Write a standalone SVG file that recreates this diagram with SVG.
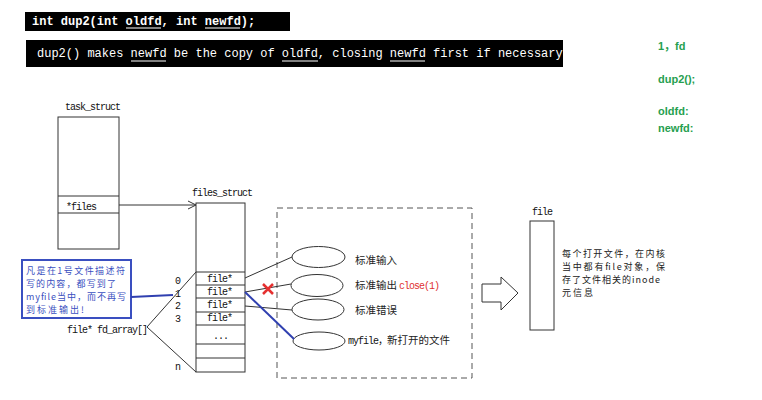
<svg xmlns="http://www.w3.org/2000/svg" width="762" height="400" viewBox="0 0 762 400">
<defs>
<style>
.code{font-family:"Liberation Mono",monospace;font-size:12px;fill:#fff}
.m{font-family:"Liberation Mono","Noto Sans CJK SC",monospace;font-size:10px;letter-spacing:-1px;fill:#111}
.cn{font-family:"Noto Sans CJK SC",sans-serif;font-size:10.5px;fill:#222}
.cs{font-family:"Noto Sans CJK SC",sans-serif;font-size:9px;fill:#222}
.bl{fill:#3a4fc0}
.g{font-family:"Liberation Sans","Noto Sans CJK SC",sans-serif;font-size:11px;font-weight:bold;fill:#27a050}
.box{fill:#fff;stroke:#333;stroke-width:1}
.ln{stroke:#333;stroke-width:1;fill:none}
.ul{stroke:#fff;stroke-width:1}
</style>
<marker id="open" markerWidth="10" markerHeight="10" refX="9" refY="5" orient="auto" markerUnits="userSpaceOnUse">
<path d="M1,1 L9,5 L1,9" fill="none" stroke="#333" stroke-width="1"/>
</marker>
</defs>
<rect width="762" height="400" fill="#fff"/>

<g id="sig">
<rect x="25" y="12" width="265" height="19" fill="#000"/>
<text class="code" x="32" y="25" font-weight="bold">int dup2(int oldfd, int newfd);</text>
<line class="ul" x1="126" y1="28" x2="161" y2="28"/>
<line class="ul" x1="205" y1="28" x2="240" y2="28"/>
</g>
<g id="desc">
<rect x="26" y="40" width="537" height="27" fill="#000"/>
<text class="code" x="37" y="57">dup2() makes newfd be the copy of oldfd, closing newfd first if necessary</text>
<line class="ul" x1="131" y1="61" x2="166" y2="61"/>
<line class="ul" x1="282" y1="61" x2="318" y2="61"/>
<line class="ul" x1="390" y1="61" x2="425" y2="61"/>
</g>

<g id="notes">
<text class="g" x="658" y="50">1，fd</text>
<text class="g" x="658" y="83">dup2();</text>
<text class="g" x="658" y="115">oldfd:</text>
<text class="g" x="658" y="132">newfd:</text>
</g>

<g id="task_struct">
<text class="m" x="65" y="110">task_struct</text>
<rect class="box" x="58" y="117" width="61" height="132"/>
<line class="ln" x1="58" y1="196" x2="119" y2="196"/>
<line class="ln" x1="58" y1="213" x2="119" y2="213"/>
<text class="m" x="66" y="210">*files</text>
</g>

<g id="files_struct">
<text class="m" x="192" y="196">files_struct</text>
<rect class="box" x="196" y="203" width="49" height="169"/>
<line class="ln" x1="196" y1="272" x2="245" y2="272"/>
<line class="ln" x1="196" y1="285" x2="245" y2="285"/>
<line class="ln" x1="196" y1="298" x2="245" y2="298"/>
<line class="ln" x1="196" y1="312" x2="245" y2="312"/>
<line class="ln" x1="196" y1="325" x2="245" y2="325"/>
<line class="ln" x1="196" y1="344" x2="245" y2="344"/>
<line class="ln" x1="196" y1="358" x2="245" y2="358"/>
<text class="m" x="207" y="282">file*</text>
<text class="m" x="207" y="295">file*</text>
<text class="m" x="207" y="308">file*</text>
<text class="m" x="207" y="321">file*</text>
<text class="m" x="213" y="339">...</text>
<text class="m" x="175" y="284">0</text>
<text class="m" x="175" y="297">1</text>
<text class="m" x="175" y="309">2</text>
<text class="m" x="175" y="322">3</text>
<text class="m" x="175" y="370">n</text>
<text class="m" x="67" y="333">file* fd_array[]</text>
</g>

<g id="callout">
<rect x="22" y="260" width="109" height="58" fill="#fff" stroke="#3a4fc0" stroke-width="2"/>
<text class="cs bl" x="26" y="274" textLength="99">凡是在1号文件描述符</text>
<text class="cs bl" x="26" y="287" textLength="90">写的内容，都写到了</text>
<text class="cs bl" x="26" y="300" textLength="100">myfile当中，而不再写</text>
<text class="cs bl" x="26" y="313" textLength="58">到标准输出!</text>
</g>

<g id="open_files">
<rect x="277" y="208" width="195" height="170" fill="none" stroke="#555" stroke-width="1" stroke-dasharray="6,4"/>
<ellipse class="box" cx="318.5" cy="257" rx="26.5" ry="10.5"/>
<ellipse class="box" cx="317" cy="285.5" rx="26" ry="11"/>
<ellipse class="box" cx="318" cy="309.5" rx="26" ry="10.5"/>
<ellipse class="box" cx="319" cy="341" rx="26" ry="9"/>
<text class="cn" x="355" y="264">标准输入</text>
<text class="cn" x="355" y="289">标准输出</text>
<text class="m" x="399" y="289" style="fill:#e03030">close(1)</text>
<text class="cn" x="355" y="314">标准错误</text>
<text class="m" x="348" y="344">myfile，<tspan class="cn" style="letter-spacing:0">新打开的文件</tspan></text>
</g>

<g id="file">
<text class="m" x="532" y="215">file</text>
<rect class="box" x="530" y="221" width="24" height="109"/>
<text class="cs" x="562" y="257" textLength="103">每个打开文件，在内核</text>
<text class="cs" x="562" y="270" textLength="103">当中都有file对象，保</text>
<text class="cs" x="562" y="283" textLength="98">存了文件相关的inode</text>
<text class="cs" x="562" y="296" textLength="31">元信息</text>
</g>

<g id="big_arrow">
<path d="M482,284 L501,284 L501,277 L518,293 L501,310 L501,302 L482,302 Z" fill="#fff" stroke="#333" stroke-width="1"/>
</g>

<g id="connectors">
<line class="ln" x1="119" y1="205" x2="196" y2="205" marker-end="url(#open)"/>
<line class="ln" x1="147" y1="327" x2="196" y2="272"/>
<line class="ln" x1="147" y1="327" x2="196" y2="372"/>
<line class="ln" x1="245" y1="278" x2="292" y2="257"/>
<line class="ln" x1="245" y1="292" x2="291" y2="284"/>
<line class="ln" x1="245" y1="306" x2="292" y2="310"/>
<line x1="245" y1="292" x2="294" y2="339" stroke="#3040b0" stroke-width="2"/>
<line x1="131" y1="297" x2="173" y2="295" stroke="#3040b0" stroke-width="2"/>
<path d="M263,284 L273,294 M273,284 L263,294" stroke="#e53030" stroke-width="2.5" fill="none"/>
</g>
</svg>
